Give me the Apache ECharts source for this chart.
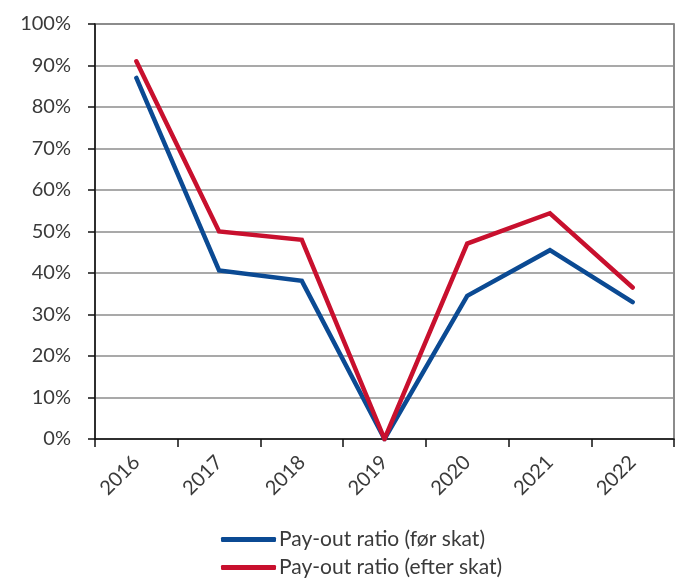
<!DOCTYPE html>
<html>
<head>
<meta charset="utf-8">
<script src="https://cdn.jsdelivr.net/npm/echarts@6/dist/echarts.min.js"></script>
<style>
  html, body { margin: 0; padding: 0; background: #fff; }
  #chart { width: 680px; height: 580px; }
</style>
</head>
<body>
<div id="chart"></div>
<script>
const years = ['2016', '2017', '2018', '2019', '2020', '2021', '2022'];
const beforeTax = [87.0, 40.6, 38.1, 0, 34.5, 45.5, 33.0];
const afterTax = [91.0, 50.0, 48.0, 0, 47.1, 54.4, 36.5];
const seriesNames = ['Pay-out ratio (før skat)', 'Pay-out ratio (efter skat)'];

const FONT = 'Lato';
const TEXT = '#3a3a3a';

const lineSeries = (name, data, color) => ({
    name: name,
    type: 'line',
    data: data,
    color: color,
    lineStyle: { width: 4.5, cap: 'round', join: 'miter' },
    showSymbol: false,
    symbol: 'none',
    animation: false
});

// one legend per row so the second row never wraps to a new column
const legendRow = (name, top) => ({
    left: 221,
    top: top,
    itemWidth: 55,
    itemHeight: 5,
    icon: 'roundRect',
    padding: 0,
    textStyle: { fontFamily: FONT, fontSize: 21, color: TEXT, padding: [0, 0, 0, -2] },
    data: [name]
});

const chart = echarts.init(document.getElementById('chart'));
chart.setOption({
    backgroundColor: '#fff',
    textStyle: { fontFamily: FONT, color: TEXT },
    grid: {
        left: 95,
        right: 6,
        top: 24,
        bottom: 141,
        show: true,
        borderColor: '#666',
        borderWidth: 1.5
    },
    legend: [
        legendRow(seriesNames[0], 529),
        legendRow(seriesNames[1], 557)
    ],
    xAxis: {
        type: 'category',
        data: years,
        boundaryGap: true,
        axisLine: { lineStyle: { color: '#111', width: 1.5 } },
        axisTick: { show: true, length: 8, lineStyle: { color: '#111', width: 1.5 } },
        axisLabel: {
            rotate: 45,
            fontSize: 20,
            color: TEXT,
            margin: 20,
            fontFamily: FONT
        },
        splitLine: { show: false }
    },
    yAxis: {
        type: 'value',
        min: 0,
        max: 100,
        interval: 10,
        axisLine: { show: true, lineStyle: { color: '#111', width: 1.5 } },
        axisTick: { show: true, length: 7, lineStyle: { color: '#111', width: 1.5 } },
        axisLabel: {
            formatter: '{value}%',
            fontSize: 20,
            color: TEXT,
            margin: 24,
            fontFamily: FONT
        },
        splitLine: { show: true, lineStyle: { color: '#8c8c8c', width: 1.5 } }
    },
    series: [
        lineSeries(seriesNames[0], beforeTax, '#0b4a93'),
        lineSeries(seriesNames[1], afterTax, '#c8102e')
    ]
});
</script>
</body>
</html>
